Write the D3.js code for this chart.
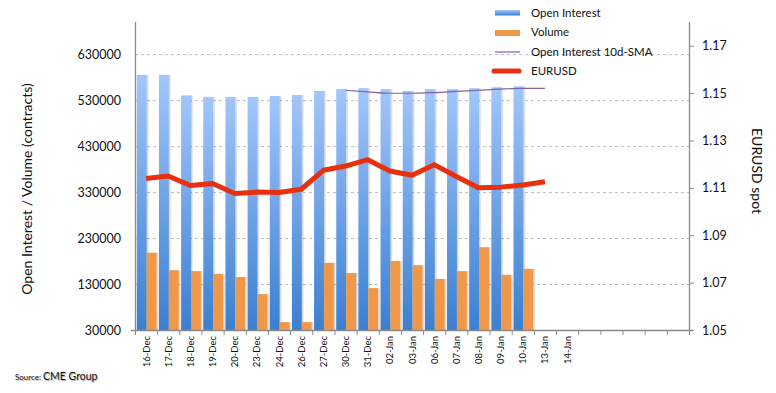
<!DOCTYPE html>
<html>
<head>
<meta charset="utf-8">
<script src="https://cdn.jsdelivr.net/npm/d3@7"></script>
<style>
  body { margin: 0; background: #fff; }
  text { font-family: Lato, "Liberation Sans", sans-serif; fill: #111; }
</style>
</head>
<body>
<svg id="chart"></svg>
<script>
// Open interest / volume vs EURUSD
const dates = ["16-Dec", "17-Dec", "18-Dec", "19-Dec", "20-Dec", "23-Dec", "24-Dec", "26-Dec", "27-Dec",
    "30-Dec", "31-Dec", "02-Jan", "03-Jan", "06-Jan", "07-Jan", "08-Jan", "09-Jan", "10-Jan",
    "13-Jan", "14-Jan", "", " ", "  ", "   ", "    "];
const openInterest = [585000, 585000, 540000, 537000, 537000, 537000, 539000, 541000, 550000,
    554000, 556000, 554000, 550000, 554000, 554000, 556000, 558000, 560000];
const volume = [198000, 160000, 158000, 152000, 145000, 108000, 47000, 47000, 176000,
    154000, 121000, 180000, 171000, 141000, 158000, 210000, 150000, 163000];
const smaDates = ["30-Dec", "31-Dec", "02-Jan", "03-Jan", "06-Jan", "07-Jan", "08-Jan", "09-Jan", "10-Jan", "13-Jan"];
const sma = [551500, 548000, 545000, 545000, 546500, 549000, 551500, 554000, 555500, 555500];
const eurusdDates = dates.slice(0, 19);
const eurusd = [1.1139, 1.1150, 1.1110, 1.1118, 1.1076, 1.1082, 1.1080, 1.1094, 1.1174,
    1.1192, 1.1219, 1.1171, 1.1153, 1.1198, 1.1148, 1.1100, 1.1103, 1.1112, 1.1126];
const leftTicks = [30000, 130000, 230000, 330000, 430000, 530000, 630000];
const rightTicks = [1.05, 1.07, 1.09, 1.11, 1.13, 1.15, 1.17];

const width = 776, height = 393;
const x0 = 135, x1 = 689, yTop = 22, yBot = 330;

const svg = d3.select("#chart").attr("width", width).attr("height", height);

const defs = svg.append("defs");
const grad = defs.append("linearGradient").attr("id", "oiGrad")
    .attr("x1", 0).attr("y1", 0).attr("x2", 0).attr("y2", 1);
grad.append("stop").attr("offset", "0%").attr("stop-color", "#a2c6fa");
grad.append("stop").attr("offset", "100%").attr("stop-color", "#3b7fd0");
const shadow = defs.append("filter").attr("id", "shadow").attr("x", "-20%").attr("width", "160%");
shadow.append("feDropShadow").attr("dx", 1.5).attr("dy", 0).attr("stdDeviation", 0.6)
    .attr("flood-color", "#000").attr("flood-opacity", 0.18);

const x = d3.scaleBand().domain(dates).range([x0, x1]).padding(0);
const sub = d3.scaleBand().domain(["oi", "vol"]).range([1.8, x.bandwidth() - 0.6]).padding(0);
const yL = d3.scaleLinear().domain([30000, 700000]).range([yBot, yTop]);
const yR = d3.scaleLinear().domain([1.05, 1.18]).range([yBot, yTop]);

// gridlines
svg.append("g").selectAll("line").data(leftTicks.slice(1)).enter().append("line")
    .attr("x1", x0).attr("x2", x1)
    .attr("y1", d => yL(d) + 0.5).attr("y2", d => yL(d) + 0.5)
    .style("stroke", "#bdbdbd").style("stroke-dasharray", "3,3");

// bars
svg.append("g").selectAll("rect").data(openInterest).enter().append("rect")
    .attr("x", (d, i) => x(dates[i]) + sub("oi"))
    .attr("width", sub.bandwidth())
    .attr("y", d => yL(d))
    .attr("height", d => yBot - yL(d))
    .style("fill", "url(#oiGrad)")
    .attr("filter", "url(#shadow)");

svg.append("g").selectAll("rect").data(volume).enter().append("rect")
    .attr("x", (d, i) => x(dates[i]) + sub("vol"))
    .attr("width", sub.bandwidth())
    .attr("y", d => yL(d))
    .attr("height", d => yBot - yL(d))
    .style("fill", "#f0984a")
    .attr("filter", "url(#shadow)");

// SMA line
const smaLine = d3.line().x((d, i) => x(smaDates[i]) + x.bandwidth() / 2).y(d => yL(d)).curve(d3.curveMonotoneX);
svg.append("path").datum(sma).attr("d", smaLine)
    .style("fill", "none").style("stroke", "#8062a8").style("stroke-width", 1.2);

// EURUSD line
const fxLine = d3.line().x((d, i) => x(eurusdDates[i]) + x.bandwidth() / 2).y(d => yR(d));
svg.append("path").datum(eurusd).attr("d", fxLine)
    .style("fill", "none").style("stroke", "#e8300e").style("stroke-width", 5)
    .style("stroke-linejoin", "round");

// axes
const axisColor = "#8a8a8a";
svg.append("line").attr("x1", x0 + 0.5).attr("x2", x0 + 0.5).attr("y1", yTop).attr("y2", yBot)
    .style("stroke", axisColor).style("stroke-width", 1.3);
svg.append("line").attr("x1", x1 + 0.5).attr("x2", x1 + 0.5).attr("y1", yTop).attr("y2", yBot)
    .style("stroke", axisColor).style("stroke-width", 1.3);

const xAxis = svg.append("g").attr("transform", `translate(0,${yBot})`);
xAxis.append("line").attr("x1", x0 - 4).attr("x2", x1 + 4).attr("y1", 0.5).attr("y2", 0.5)
    .style("stroke", axisColor).style("stroke-width", 1.3);
xAxis.selectAll(".tk").data(dates.concat(["end"])).enter().append("line")
    .attr("x1", (d, i) => x0 + i * x.step() + 0.5).attr("x2", (d, i) => x0 + i * x.step() + 0.5)
    .attr("y1", 0).attr("y2", 5)
    .style("stroke", axisColor);
xAxis.selectAll("text").data(dates).enter().append("text")
    .attr("transform", d => `translate(${x(d) + x.bandwidth() / 2 + 3.5},6) rotate(-90)`)
    .style("text-anchor", "end")
    .style("font-size", "9.5px")
    .text(d => d.trim());

// left ticks
svg.append("g").selectAll("text").data(leftTicks).enter().append("text")
    .attr("x", 121).attr("y", d => yL(d) + 4.5)
    .style("text-anchor", "end").style("font-size", "12.5px")
    .text(d => d);

// right ticks
const rAxis = svg.append("g");
rAxis.selectAll("line").data(rightTicks).enter().append("line")
    .attr("x1", x1).attr("x2", x1 + 5)
    .attr("y1", d => yR(d) + 0.5).attr("y2", d => yR(d) + 0.5)
    .style("stroke", axisColor);
rAxis.selectAll("text").data(rightTicks).enter().append("text")
    .attr("x", 702).attr("y", d => yR(d) + 4.5)
    .style("font-size", "12.5px")
    .text(d => d.toFixed(2));

// axis titles
svg.append("text").attr("transform", "translate(32,189) rotate(-90)")
    .style("text-anchor", "middle").style("font-size", "14px")
    .text("Open Interest / Volume (contracts)");
svg.append("text").attr("transform", "translate(752,171) rotate(90)")
    .style("text-anchor", "middle").style("font-size", "14px")
    .text("EURUSD spot");

// legend
const legend = svg.append("g").style("font-size", "11.5px");
legend.append("rect").attr("x", 495).attr("y", 10).attr("width", 25).attr("height", 5.5).style("fill", "url(#oiGrad)");
legend.append("rect").attr("x", 495).attr("y", 30).attr("width", 25).attr("height", 6).style("fill", "#f0984a");
legend.append("line").attr("x1", 495).attr("x2", 520).attr("y1", 52).attr("y2", 52)
    .style("stroke", "#8062a8").style("stroke-width", 1.2);
legend.append("line").attr("x1", 494).attr("x2", 519).attr("y1", 71).attr("y2", 71)
    .style("stroke", "#e8300e").style("stroke-width", 5).style("stroke-linecap", "round");
const legendLabels = ["Open Interest", "Volume", "Open Interest 10d-SMA", "EURUSD"];
legend.selectAll("text").data(legendLabels).enter().append("text")
    .attr("x", 531).attr("y", (d, i) => 16.5 + i * 19.5)
    .text(d => d);

// source
const src = svg.append("text").attr("x", 15).attr("y", 380)
    .style("text-shadow", "1px 1px 1px rgba(0,0,0,0.35)");
src.append("tspan").style("font-size", "8px").text("Source: ");
src.append("tspan").style("font-size", "10.5px").text("CME Group");
</script>
</body>
</html>
